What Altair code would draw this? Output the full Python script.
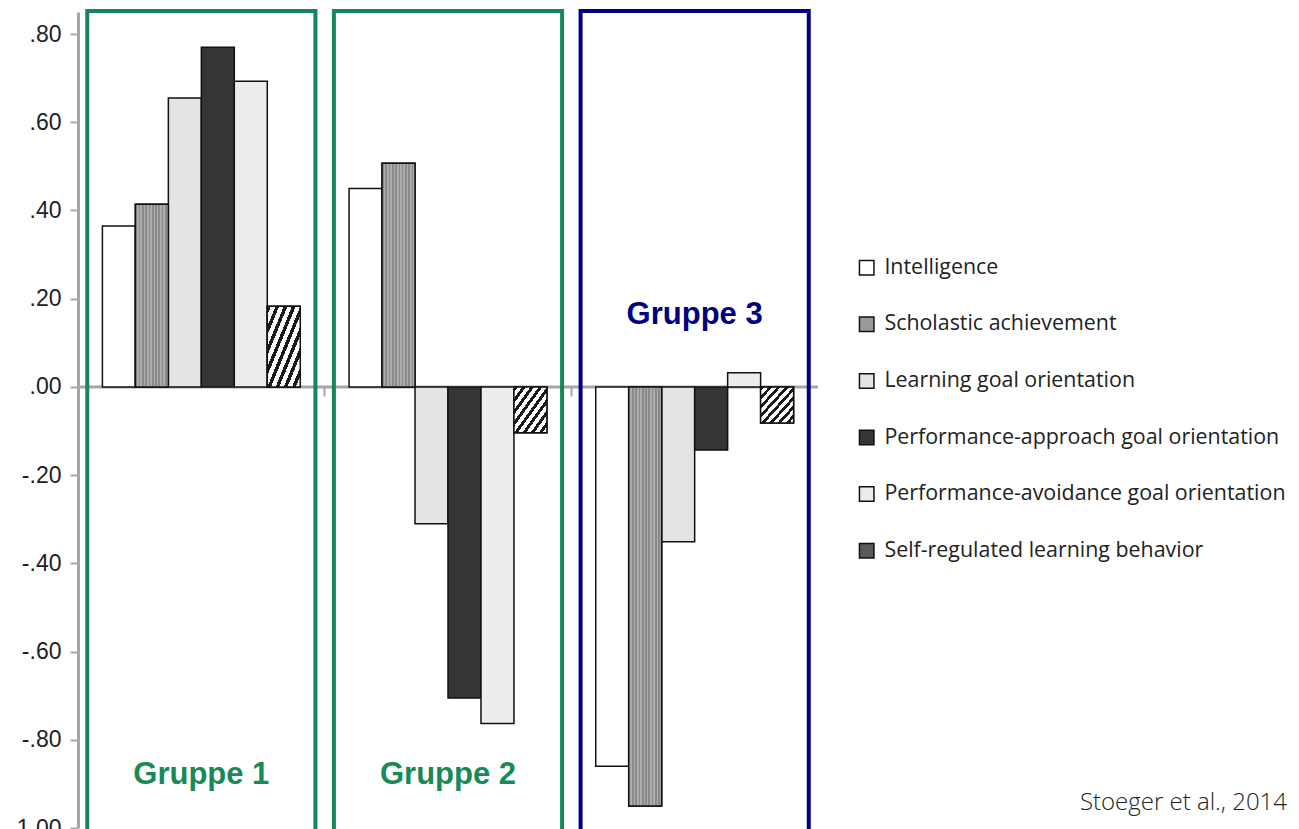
import altair as alt
import pandas as pd

groups = ["Gruppe 1", "Gruppe 2", "Gruppe 3"]
series = [
    "Intelligence",
    "Scholastic achievement",
    "Learning goal orientation",
    "Performance-approach goal orientation",
    "Performance-avoidance goal orientation",
    "Self-regulated learning behavior",
]
values_g1 = [0.365, 0.414, 0.655, 0.770, 0.693, 0.183]
values_g2 = [0.450, 0.507, -0.310, -0.705, -0.763, -0.104]
values_g3 = [-0.860, -0.950, -0.351, -0.143, 0.032, -0.082]
series_colors = ["#ffffff", "#9a9a9a", "#e4e4e4", "#353535", "#ececec", "#5a5a5a"]

label_y = [-0.88, -0.88, 0.163]
label_colors = ["#178a57", "#178a57", "#000080"]
box_colors = ["#17875a", "#17875a", "#000080"]
y_ticks = [-1.0, -0.8, -0.6, -0.4, -0.2, 0.0, 0.2, 0.4, 0.6, 0.8]

rows = []
for g, vals in zip(groups, [values_g1, values_g2, values_g3]):
    for s, v in zip(series, vals):
        rows.append({"group": g, "series": s, "value": v})
df = pd.DataFrame(rows)
lab = pd.DataFrame({"group": groups, "ly": label_y, "lc": label_colors, "bc": box_colors})

W, H = 740, 816
ydom = [-1.0, 0.85]
y0 = H * (ydom[1] - 0) / (ydom[1] - ydom[0])

xenc = alt.X("group:N", sort=groups, scale=alt.Scale(paddingInner=0, paddingOuter=0),
             axis=alt.Axis(title=None, labels=False, domain=False, bandPosition=0,
                           ticks=True, tickSize=9, tickColor="#a6a6a6", tickWidth=2,
                           orient="bottom", offset=-(H - y0)))
xoff = alt.XOffset("series:N", sort=series, scale=alt.Scale(domain=series, paddingOuter=0.74, paddingInner=0))
yenc = alt.Y("value:Q", scale=alt.Scale(domain=ydom, nice=False, zero=False),
             axis=alt.Axis(title=None, values=y_ticks,
                           labelExpr="replace(replace(format(datum.value, '.2f'), '0.', '.'), '\u2212', '-')",
                           labelFont="Liberation Sans", labelFontSize=23, labelColor="#222222",
                           labelPadding=9, domainColor="#a6a6a6", domainWidth=3,
                           tickColor="#a6a6a6", tickWidth=2, tickSize=8, grid=False))

bars = alt.Chart(df).mark_bar(stroke="#111111", strokeWidth=1.5).encode(
    x=xenc, xOffset=xoff, y=yenc,
    color=alt.Color("series:N", sort=series,
                    scale=alt.Scale(domain=series, range=series_colors),
                    legend=alt.Legend(title=None, orient="none", legendX=778, legendY=245,
                                      symbolType="square", symbolSize=210,
                                      symbolStrokeColor="#111111", symbolStrokeWidth=1.5,
                                      labelFont="Open Sans", labelFontSize=21.4,
                                      labelColor="#222222", labelLimit=600, labelOffset=7,
                                      rowPadding=33.6, padding=0)),
)

sch_stops = []
n = 10
for i in range(n):
    a, b = i / n, (i + 0.5) / n
    sch_stops += [{"offset": a, "color": "#8a8a8a"}, {"offset": b, "color": "#8a8a8a"},
                  {"offset": b, "color": "#acacac"}, {"offset": (i + 1) / n, "color": "#acacac"}]
sch = alt.Chart(df).transform_filter(alt.datum.series == series[1]).mark_bar(
    stroke="#111111", strokeWidth=1.5,
    fill={"gradient": "linear", "x1": 0, "y1": 0, "x2": 1, "y2": 0, "stops": sch_stops},
).encode(x=xenc, xOffset=xoff, y=yenc)

srl_stops = []
n = 8
for i in range(n):
    a, b = i / n, (i + 0.45) / n
    srl_stops += [{"offset": a, "color": "#1a1a1a"}, {"offset": b, "color": "#1a1a1a"},
                  {"offset": b, "color": "#ffffff"}, {"offset": (i + 1) / n, "color": "#ffffff"}]
srl = alt.Chart(df).transform_filter(alt.datum.series == series[5]).mark_bar(
    stroke="#111111", strokeWidth=1.5,
    fill={"gradient": "linear", "x1": 0, "y1": 0, "x2": 1, "y2": 1, "stops": srl_stops},
).encode(x=xenc, xOffset=xoff, y=yenc)

zero = alt.Chart(pd.DataFrame({"z": [0.0]})).mark_rule(color="#a6a6a6", strokeWidth=3).encode(
    y=alt.Y("z:Q", scale=alt.Scale(domain=ydom, nice=False, zero=False)))

boxes = alt.Chart(lab).mark_bar(fillOpacity=0, strokeWidth=4, width={"band": 0.925}).encode(
    x=alt.X("group:N", sort=groups), y=alt.value(-1), y2=alt.value(H + 4),
    stroke=alt.Stroke("bc:N", scale=None))

texts = alt.Chart(lab).mark_text(font="Liberation Sans", fontWeight="bold", fontSize=31,
                                 baseline="middle", align="center").encode(
    x=alt.X("group:N", sort=groups), y=alt.Y("ly:Q", scale=alt.Scale(domain=ydom, nice=False, zero=False)),
    fill=alt.Fill("lc:N", scale=None), text="group:N")

credit = alt.Chart(pd.DataFrame({"t": ["Stoeger et al., 2014"]})).mark_text(
    font="Open Sans", fontSize=24, fontWeight=300, align="right", baseline="middle", color="#222222"
).encode(x=alt.value(1287 - 78), y=alt.value(803 - 12), text="t:N")

chart = alt.layer(zero, bars, sch, srl, boxes, texts, credit).properties(
    width=W, height=H, padding={"left": 70, "top": 4, "right": 473, "bottom": 1},
    autosize=alt.AutoSizeParams(type="none"),
).configure_view(stroke=None)

chart.save("out.html", embed_options={"renderer": "svg", "actions": False})
